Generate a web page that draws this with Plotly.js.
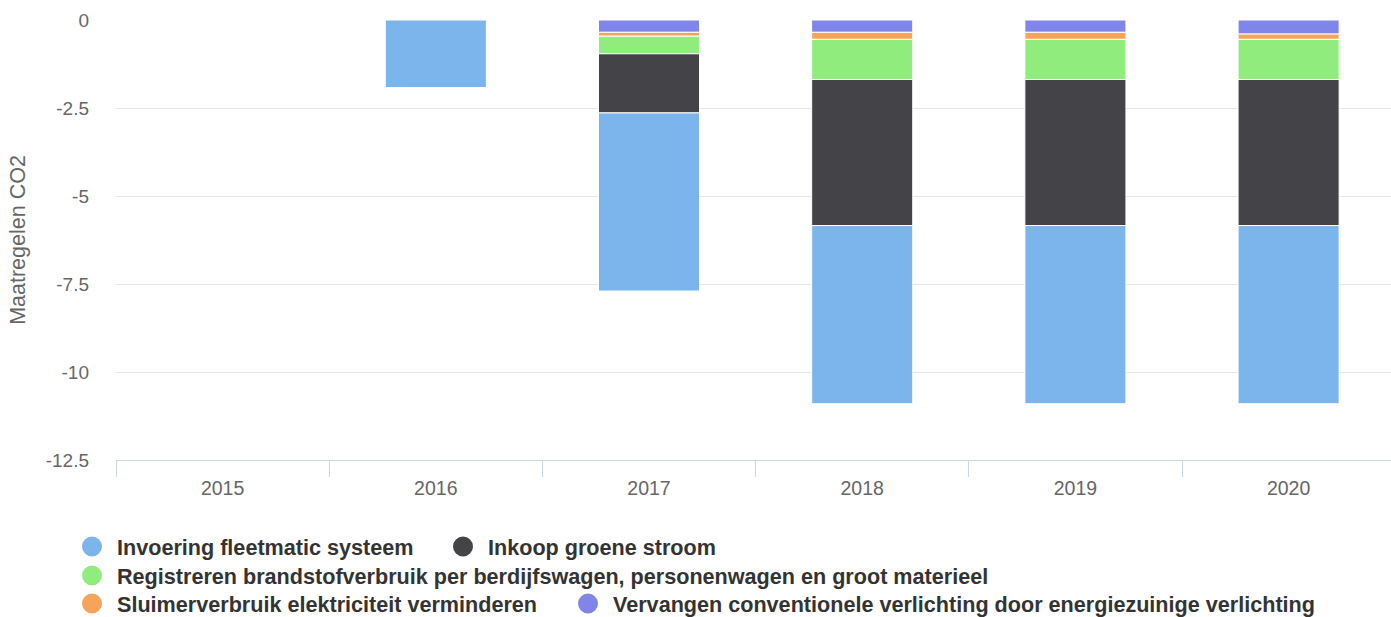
<!DOCTYPE html>
<html>
<head>
<meta charset="utf-8">
<script src="https://cdn.plot.ly/plotly-3.0.1.min.js"></script>
<style>
  html, body { margin: 0; padding: 0; background: #ffffff; }
  #chart { width: 1391px; height: 617px; }
</style>
</head>
<body>
<div id="chart"></div>
<script>
// ---- data ----
const years = ['2015', '2016', '2017', '2018', '2019', '2020'];
const invoering   = [null, -1.92, -5.06, -5.06, -5.06, -5.06];
const inkoop      = [null, null, -1.68, -4.15, -4.15, -4.15];
const registreren = [null, null, -0.50, -1.14, -1.14, -1.14];
const sluimer     = [null, null, -0.11, -0.20, -0.20, -0.15];
const vervangen   = [null, null, -0.35, -0.35, -0.35, -0.40];

const seriesNames = [
  'Invoering fleetmatic systeem',
  'Inkoop groene stroom',
  'Registreren brandstofverbruik per berdijfswagen, personenwagen en groot materieel',
  'Sluimerverbruik elektriciteit verminderen',
  'Vervangen conventionele verlichting door energiezuinige verlichting'
];
const yTickVals = [0, -2.5, -5, -7.5, -10, -12.5];
const yTickText = ['0', '-2.5', '-5', '-7.5', '-10', '-12.5'];

// ---- styling ----
const colors = ['#7cb5ec', '#434348', '#90ed7d', '#f7a35c', '#8085e9'];
const seriesValues = [invoering, inkoop, registreren, sluimer, vervangen];
const legendIds = ['legend', 'legend2', 'legend3', 'legend4', 'legend5'];
// legend symbol centre positions in pixels
const legendPos = [[92, 547], [463, 547], [92, 576], [92, 604], [588, 604]];

const FONT = '"Liberation Sans", Arial, Helvetica, sans-serif';
const W = 1391, H = 617;

const traces = [];
// bars: stacked from zero outward, last series closest to zero
for (let i = seriesValues.length - 1; i >= 0; i--) {
  traces.push({
    type: 'bar',
    name: seriesNames[i],
    x: years,
    y: seriesValues[i],
    marker: { color: colors[i], line: { color: '#ffffff', width: 1 } },
    legendgroup: 'g' + i,
    showlegend: false,
    hovertemplate: '%{x}<br>' + seriesNames[i] + ': %{y}<extra></extra>'
  });
}
// legend entries with round symbols
for (let i = 0; i < seriesValues.length; i++) {
  traces.push({
    type: 'scatter',
    mode: 'markers',
    name: seriesNames[i],
    x: [null],
    y: [null],
    marker: { color: colors[i], size: 20, symbol: 'circle', line: { color: colors[i], width: 4 } },
    legendgroup: 'g' + i,
    legend: legendIds[i],
    showlegend: true,
    hoverinfo: 'skip'
  });
}

const plotLeft = 116;
const plotWidth = W - plotLeft;
const catWidth = 213.2;
const plotTop = 20;
const plotBottom = 460;

const layout = {
  width: W,
  height: H,
  margin: { l: plotLeft, r: 0, t: plotTop, b: H - plotBottom, pad: 0 },
  paper_bgcolor: '#ffffff',
  plot_bgcolor: '#ffffff',
  barmode: 'relative',
  bargap: 0.526,
  font: { family: FONT, color: '#666666' },
  xaxis: {
    type: 'category',
    range: [-0.5, -0.5 + plotWidth / catWidth],
    showgrid: false,
    zeroline: false,
    showline: true,
    linecolor: '#ccd6eb',
    linewidth: 1,
    ticks: 'outside',
    tickson: 'boundaries',
    ticklen: 16,
    tickcolor: '#ccd6eb',
    tickwidth: 1,
    ticklabelstandoff: 11,
    tickfont: { family: FONT, size: 19.5, color: '#666666' },
    fixedrange: true
  },
  yaxis: {
    range: [-12.5, 0],
    tickmode: 'array',
    tickvals: yTickVals,
    ticktext: yTickText,
    showgrid: true,
    gridcolor: '#e6e6e6',
    gridwidth: 1,
    zeroline: false,
    showline: false,
    ticks: '',
    ticklabelstandoff: 26,
    tickfont: { family: FONT, size: 19, color: '#666666' },
    title: { text: 'Maatregelen CO2', font: { family: FONT, size: 21.5, color: '#666666' }, standoff: 14 },
    fixedrange: true
  },
  showlegend: true
};

legendIds.forEach(function (id, i) {
  layout[id] = {
    orientation: 'h',
    xref: 'container',
    yref: 'container',
    x: (legendPos[i][0] - 25) / W,
    y: 1 - legendPos[i][1] / H,
    xanchor: 'left',
    yanchor: 'middle',
    itemwidth: 40,
    itemsizing: 'trace',
    bgcolor: 'rgba(0,0,0,0)',
    font: { family: FONT, size: 21.6, color: '#333333', weight: 'bold' }
  };
});

Plotly.newPlot('chart', traces, layout, { displayModeBar: false, responsive: false });
</script>
</body>
</html>
